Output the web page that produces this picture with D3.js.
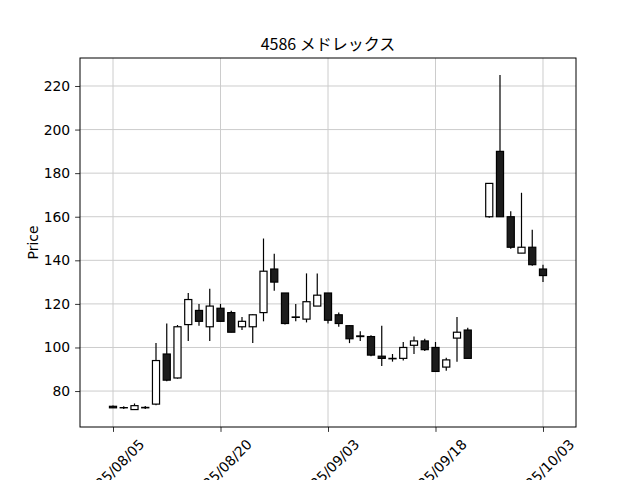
<!DOCTYPE html>
<html>
<head>
<meta charset="utf-8">
<script src="https://cdn.jsdelivr.net/npm/d3@7"></script>
<style>
  body { margin: 0; background: #fff; }
  svg { display: block; }
  .tick text { font-family: "DejaVu Sans", sans-serif; font-size: 13.9px; fill: #000; }
</style>
</head>
<body>
<script>

// trading days (index = x position)
var dates = ["2025/08/05","2025/08/06","2025/08/07","2025/08/08","2025/08/12","2025/08/13","2025/08/14","2025/08/15",
    "2025/08/18","2025/08/19","2025/08/20","2025/08/21","2025/08/22","2025/08/25","2025/08/26","2025/08/27",
    "2025/08/28","2025/08/29","2025/09/01","2025/09/02","2025/09/03","2025/09/04","2025/09/05","2025/09/08",
    "2025/09/09","2025/09/10","2025/09/11","2025/09/12","2025/09/16","2025/09/17","2025/09/18","2025/09/19",
    "2025/09/22","2025/09/24","2025/09/25","2025/09/26","2025/09/29","2025/09/30","2025/10/01","2025/10/02","2025/10/03"];

var openP  = [73.0, 72.4, 71.5, 72.3, 74.0, 97.0, 86.0, 110.5, 117.0, 109.5, 118.0, 116.0, 109.5, 109.5, 116.0, 136.0,
    125.0, 114.0, 113.0, 119.0, 125.0, 115.0, 110.0, 105.3, 105.0, 96.0, 95.0, 95.0, 101.0, 103.0, 100.0, 91.0,
    104.3, 108.0, 125.0, 160.0, 190.0, 160.0, 143.3, 146.0, 136.0];
var highP  = [73.4, 73.0, 74.3, 73.1, 102.0, 111.0, 110.3, 125.0, 120.0, 127.0, 120.0, 116.8, 114.0, 115.2, 150.0, 143.0,
    125.0, 120.0, 134.0, 134.0, 125.0, 116.0, 110.2, 107.5, 105.6, 110.0, 97.0, 102.5, 105.0, 104.0, 102.5, 95.3,
    114.0, 109.0, 125.0, 175.3, 225.0, 162.5, 171.0, 154.0, 138.0];
var lowP   = [72.2, 71.8, 71.3, 71.8, 73.5, 84.5, 85.7, 103.0, 110.0, 103.0, 111.8, 107.0, 108.0, 102.0, 112.0, 126.0,
    110.5, 112.0, 111.5, 119.0, 111.0, 109.5, 102.0, 103.0, 96.0, 91.5, 93.5, 94.0, 97.0, 98.4, 89.0, 89.3,
    93.5, 95.0, 125.0, 159.5, 160.0, 145.3, 143.3, 137.5, 130.0];
var closeP = [72.3, 72.3, 73.3, 72.5, 94.0, 85.0, 109.5, 122.0, 112.0, 119.0, 112.0, 107.0, 112.0, 115.0, 135.0, 130.0,
    111.0, 113.8, 121.0, 124.0, 112.5, 111.0, 104.0, 105.0, 96.5, 95.0, 94.8, 100.0, 103.0, 99.0, 89.0, 94.3,
    107.0, 95.0, 125.0, 175.3, 160.0, 146.0, 146.0, 138.0, 133.0];

var tickIdx = [0, 10, 20, 30, 40];
var yTicks = [80, 100, 120, 140, 160, 180, 200, 220];
var title = "4586 メドレックス";

var data = dates.map(function(d, i){
    return {i: i, date: d, open: openP[i], high: highP[i], low: lowP[i], close: closeP[i]};
});

var width = 640, height = 480;
var margin = {left: 80, right: 64, top: 58, bottom: 53};
var w = width - margin.left - margin.right;   // 496
var h = height - margin.top - margin.bottom;  // 369

var svg = d3.select("body").append("svg").attr("width", width).attr("height", height);

//SCALES
var xScale = d3.scaleLinear().domain([-3.07, 43.07]).range([0, w]);
var yScale = d3.scaleLinear().domain([63.5, 232.85]).range([h, 0]);

var chartGroup = svg.append("g")
    .attr("transform", "translate(" + margin.left + "," + margin.top + ")");

//GRID
chartGroup.append("g").selectAll("line").data(yTicks).enter().append("line")
    .attr("x1", 0).attr("x2", w)
    .attr("y1", function(d){ return yScale(d); }).attr("y2", function(d){ return yScale(d); })
    .attr("stroke", "#cccccc").attr("stroke-width", 1);
chartGroup.append("g").selectAll("line").data(tickIdx).enter().append("line")
    .attr("y1", 0).attr("y2", h)
    .attr("x1", function(d){ return xScale(d); }).attr("x2", function(d){ return xScale(d); })
    .attr("stroke", "#cccccc").attr("stroke-width", 1);

//CANDLES
var bodyW = xScale(0.33) - xScale(0);
var candles = chartGroup.append("g").selectAll("g").data(data).enter().append("g");

candles.append("line")
    .attr("x1", function(d){ return xScale(d.i); }).attr("x2", function(d){ return xScale(d.i); })
    .attr("y1", function(d){ return yScale(d.high); }).attr("y2", function(d){ return yScale(d.low); })
    .attr("stroke", "#000").attr("stroke-width", 1.2);

candles.append("rect")
    .attr("x", function(d){ return xScale(d.i) - bodyW; })
    .attr("width", bodyW * 2)
    .attr("y", function(d){ return yScale(Math.max(d.open, d.close)); })
    .attr("height", function(d){ return Math.abs(yScale(d.open) - yScale(d.close)); })
    .attr("fill", function(d){ return d.close >= d.open ? "#fff" : "#1c1c1c"; })
    .attr("stroke", "#000").attr("stroke-width", 1.2);

//AXES
var xAxis = d3.axisBottom(xScale).tickValues(tickIdx).tickSize(4.9).tickPadding(4.9)
    .tickFormat(function(d){ return dates[d]; });
var yAxis = d3.axisLeft(yScale).tickValues(yTicks).tickSize(4.9).tickPadding(4.9);

var gx = chartGroup.append("g")
    .attr("transform", "translate(0," + h + ")")
    .call(xAxis);
gx.select(".domain").remove();
gx.selectAll(".tick line").attr("stroke", "#000").attr("stroke-width", 0.8);

// rotate labels 45deg, centred under the tick like matplotlib
gx.selectAll(".tick text").each(function(){
    var t = d3.select(this);
    var len = this.getComputedTextLength();
    var half = (len + 13.9) * 0.7071 / 2;
    t.attr("y", null).attr("dy", "0.35em")
     .attr("text-anchor", "middle")
     .attr("transform", "translate(0," + (9.8 + half) + ") rotate(-45)");
});

var gy = chartGroup.append("g").call(yAxis);
gy.select(".domain").remove();
gy.selectAll(".tick line").attr("stroke", "#000").attr("stroke-width", 0.8);

// frame
chartGroup.append("rect")
    .attr("x", 0).attr("y", 0).attr("width", w).attr("height", h)
    .attr("fill", "none").attr("stroke", "#000").attr("stroke-width", 1);

//LABELS
chartGroup.append("text")
    .attr("transform", "translate(-42," + (h / 2) + ") rotate(-90)")
    .attr("text-anchor", "middle")
    .style("font-family", "DejaVu Sans, sans-serif").style("font-size", "13.9px")
    .text("Price");

chartGroup.append("text")
    .attr("x", w / 2).attr("y", -8.3)
    .attr("text-anchor", "middle")
    .style("font-family", "Noto Sans CJK JP, sans-serif").style("font-size", "16px")
    .text(title);

</script>
</body>
</html>
